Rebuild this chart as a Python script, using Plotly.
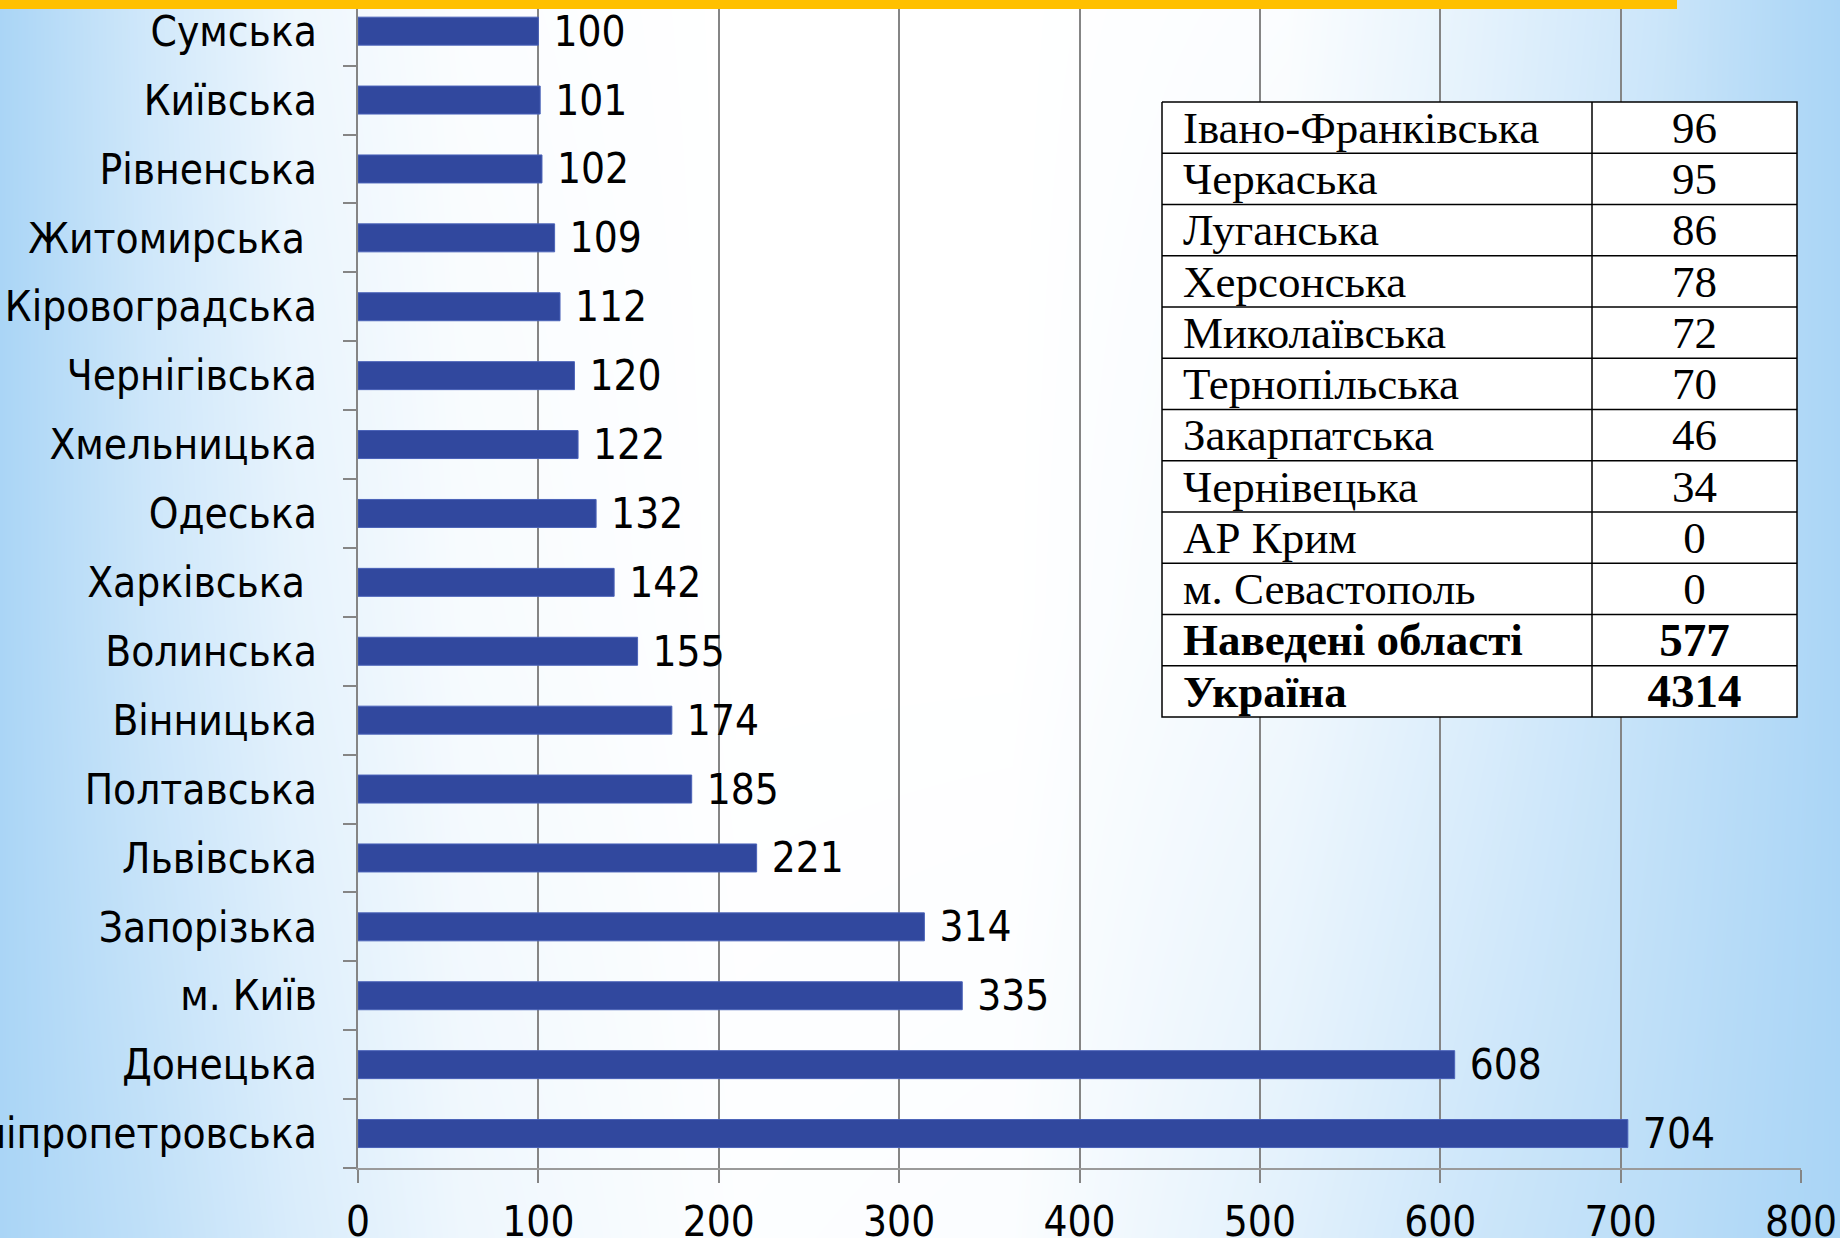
import plotly.graph_objects as go

# ---------------- data ----------------
regions = ["Сумська", "Київська", "Рівненська", "Житомирська\u00a0", "Кіровоградська",
           "Чернігівська", "Хмельницька", "Одеська", "Харківська\u00a0", "Волинська",
           "Вінницька", "Полтавська", "Львівська", "Запорізька", "м. Київ",
           "Донецька", "Дніпропетровська"]
values = [100, 101, 102, 109, 112, 120, 122, 132, 142, 155, 174, 185, 221, 314, 335, 608, 704]

table_names = ["Івано-Франківська", "Черкаська", "Луганська", "Херсонська", "Миколаївська",
               "Тернопільська", "Закарпатська", "Чернівецька", "АР Крим", "м. Севастополь"]
table_values = [96, 95, 86, 78, 72, 70, 46, 34, 0, 0]
total_names = ["Наведені області", "Україна"]
total_values = [577, 4314]

x_ticks = [0, 100, 200, 300, 400, 500, 600, 700, 800]

# ---------------- style ----------------
W, H = 1840, 1238
SANS = "DejaVu Sans Condensed, Liberation Sans Narrow, DejaVu Sans, sans-serif"
SERIF = "Liberation Serif, DejaVu Serif, serif"
BAR_COLOR = "#31489E"
GRID = "#858585"

# background gradient intensities (0 = white, 1 = light blue), styling only
bg_x = [-0.2, 0, 0.08, 0.16, 0.25, 0.4, 0.55, 0.7, 0.8, 0.9, 0.97, 1.0, 1.2]
bg_y = [-0.2, 0, 0.5, 1, 1.2]
_bot = [1.0, 0.75, 0.45, 0.2, 0.03, 0.05, 0.35, 0.6, 0.8, 0.95, 1.0]
_mid = [1.0, 0.6, 0.3, 0.1, 0.0, 0.0, 0.15, 0.4, 0.7, 0.9, 1.0]
_top = [1.0, 0.55, 0.2, 0.05, 0.0, 0.0, 0.05, 0.3, 0.6, 0.9, 1.0]
bg_rows = [_bot, _bot, _mid, _top, _top]
bg_z = [[r[0]] + r + [r[-1]] for r in bg_rows]

# plot area in pixels
px_left, px_right, px_bottom = 358, 1801, 1168
row_px = 68.9
y_top_range = -0.5 + px_bottom / row_px

# table box in pixels
t_left, t_right, t_top, t_bottom = 1162, 1797, 102, 717
t_split = 1592
pad = 3
TFS = 45

fig = go.Figure()

# background
fig.add_trace(go.Heatmap(x=bg_x, y=bg_y, z=bg_z, zsmooth="best", showscale=False,
                         colorscale=[[0, "#FFFFFF"], [1, "#AAD5F6"]], zmin=0, zmax=1,
                         hoverinfo="skip", xaxis="x", yaxis="y"))

# bars
fig.add_trace(go.Bar(
    y=regions, x=values, orientation="h", xaxis="x2", yaxis="y2",
    marker=dict(color=BAR_COLOR, line=dict(color="#4A62B8", width=1)),
    texttemplate="\u00a0%{x}", textposition="outside", constraintext="none",
    cliponaxis=False, textfont=dict(family=SANS, size=42, color="black"),
))

# table
all_names = table_names + total_names
nrows = len(all_names)
split = (t_split - t_left) / (t_right - t_left)
row_idx = [i + 0.58 for i in range(nrows)]

fig.add_trace(go.Scatter(x=[0, 1, 1, 0, 0], y=[0, 0, nrows, nrows, 0], mode="lines",
                         fill="toself", fillcolor="white", line=dict(color="black", width=1.5),
                         xaxis="x3", yaxis="y3", hoverinfo="skip"))
lx, ly = [], []
for i in range(1, nrows):
    lx += [0, 1, None]
    ly += [i, i, None]
lx += [split, split, None]
ly += [0, nrows, None]
fig.add_trace(go.Scatter(x=lx, y=ly, mode="lines", line=dict(color="black", width=1.5),
                         xaxis="x3", yaxis="y3", hoverinfo="skip"))

nreg = len(table_names)
ntot = len(total_names)
name_x = 0.033
val_x = (split + 1) / 2
fig.add_trace(go.Scatter(x=[name_x] * nreg, y=row_idx[:nreg], text=table_names, mode="text",
                         textposition="middle right", xaxis="x3", yaxis="y3",
                         textfont=dict(family=SERIF, size=TFS, color="black"), hoverinfo="skip"))
fig.add_trace(go.Scatter(x=[val_x] * nreg, y=row_idx[:nreg], text=[str(v) for v in table_values],
                         mode="text", textposition="middle center", xaxis="x3", yaxis="y3",
                         textfont=dict(family=SERIF, size=TFS, color="black"), hoverinfo="skip"))
fig.add_trace(go.Scatter(x=[name_x] * ntot, y=row_idx[nreg:], text=total_names, mode="text",
                         textposition="middle right", xaxis="x3", yaxis="y3",
                         textfont=dict(family=SERIF, size=TFS, color="black", weight="bold"), hoverinfo="skip"))
fig.add_trace(go.Scatter(x=[val_x] * ntot, y=row_idx[nreg:], text=[str(v) for v in total_values],
                         mode="text", textposition="middle center", xaxis="x3", yaxis="y3",
                         textfont=dict(family=SERIF, size=TFS + 2, color="black", weight="bold"),
                         hoverinfo="skip"))

tw = t_right - t_left
th = t_bottom - t_top
fig.update_layout(
    width=W, height=H, margin=dict(l=0, r=0, t=0, b=0, autoexpand=False),
    paper_bgcolor="#D2E9FA", plot_bgcolor="rgba(0,0,0,0)", showlegend=False,
    bargap=0.594,
    xaxis=dict(domain=[0, 1], range=[0, 1], visible=False, fixedrange=True, automargin=False),
    yaxis=dict(domain=[0, 1], range=[0, 1], visible=False, fixedrange=True, anchor="x",
               automargin=False),
    xaxis2=dict(domain=[px_left / W, px_right / W], anchor="y2", range=[0, 800],
                tickvals=x_ticks, showgrid=True, gridcolor=GRID, gridwidth=1.6,
                ticks="outside", ticklen=13, tickcolor=GRID, tickwidth=1.6,
                showline=True, linecolor="#9A9A9A", linewidth=2, zeroline=False,
                automargin=False,
                tickfont=dict(family=SANS, size=42, color="black"), ticklabelstandoff=3),
    yaxis2=dict(domain=[(H - px_bottom) / H, 1], anchor="x2", type="category",
                categoryorder="array", categoryarray=regions[::-1],
                range=[-0.5, y_top_range], tickson="boundaries", ticks="outside",
                ticklen=13, tickcolor=GRID, tickwidth=1.6, showline=True,
                linecolor=GRID, linewidth=1.6, showgrid=False, zeroline=False,
                automargin=False,
                tickfont=dict(family=SANS, size=42, color="black"), ticklabelstandoff=31),
    xaxis3=dict(domain=[(t_left - pad) / W, (t_right + pad) / W], anchor="y3",
                range=[-pad / tw, 1 + pad / tw], visible=False, fixedrange=True, automargin=False),
    yaxis3=dict(domain=[(H - t_bottom - pad) / H, (H - t_top + pad) / H], anchor="x3",
                range=[nrows + pad * nrows / th, -pad * nrows / th], visible=False,
                fixedrange=True, automargin=False),
    shapes=[dict(type="rect", xref="paper", yref="paper", x0=0, x1=1677 / W,
                 y0=1 - 9 / H, y1=1, fillcolor="#FFC000", line=dict(width=0), layer="above")],
)

fig.write_html("out.html",
               config={"displayModeBar": False},
               post_script="document.body.style.margin='0';document.body.style.padding='0';"
                           "document.documentElement.style.margin='0';")
